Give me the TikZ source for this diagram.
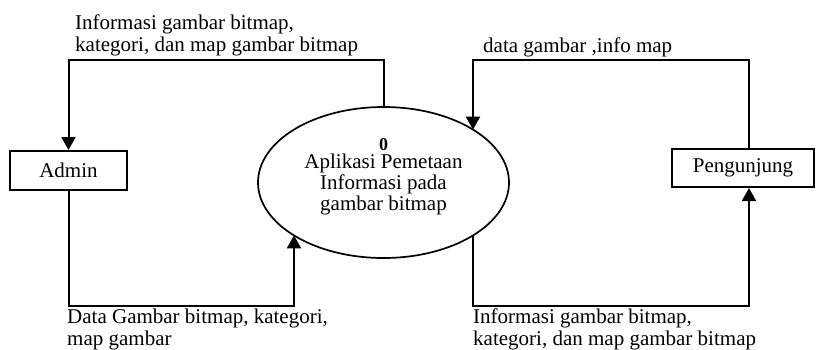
\documentclass[tikz,border=0pt]{standalone}
\usepackage{fontspec}
\setmainfont{Liberation Serif}
\usetikzlibrary{arrows.meta,calc,shapes.geometric}
\begin{document}
\begin{tikzpicture}[x=1pt,y=-1pt,
  box/.style={draw,line width=2pt,inner sep=0pt,font=\fontsize{21}{22}\selectfont},
  flow/.style={line width=2pt,-{Triangle[width=14pt,length=13pt]}},
  lbl/.style={anchor=north west,inner sep=0pt,align=left,font=\fontsize{21}{22}\selectfont}]
\useasboundingbox (0,0) rectangle (816,349);
% entities and process
\node[box,minimum width=117pt,minimum height=39pt] (admin) at (68.5,170.5) {Admin};
\node[box,minimum width=142pt,minimum height=38pt] (peng) at (743,168) {Pengunjung};
\node[ellipse,draw,line width=1.7pt,minimum width=251pt,minimum height=151pt,inner sep=0pt] (proc) at (383.5,182.5) {};
\node[anchor=base,inner sep=0pt,font=\fontsize{18}{18}\selectfont\bfseries] (pnum) at (383.5,150.5) {0};
\node[anchor=north,inner sep=0pt,align=center,font=\fontsize{21}{21}\selectfont] (ptext) at (383.5,153.5)
  {Aplikasi Pemetaan\\Informasi pada\\gambar bitmap};
% helper coordinates
\coordinate (topy) at (0,60);
\coordinate (boty) at (0,306);
\coordinate (pbl) at ($(proc.center)+(-89.5,52.9)$);
\coordinate (pbr) at ($(proc.center)+(89.5,52.9)$);
\coordinate (ptr) at ($(proc.center)+(89.5,-52.9)$);
\coordinate (pengtop) at ($(peng.north)+(6,0)$);
\coordinate (pengbot) at ($(peng.south)+(6,0)$);
% flows
\draw[flow] (proc.north) -- (proc.north |- topy) -| (admin.north);
\draw[flow] (admin.south) -- (admin.south |- boty) -| (pbl);
\draw[flow] (pengtop) -- (pengtop |- topy) -| (ptr);
\draw[flow] (pbr) -- (pbr |- boty) -| (pengbot);
% labels
\node[lbl] (l1) at (75,15) {Informasi gambar bitmap,\\kategori, dan map gambar bitmap};
\node[lbl] (l2) at (483,37.7) {data gambar ,info map};
\node[lbl] (l3) at (67,308.7) {Data Gambar bitmap, kategori,\\map gambar};
\node[lbl] (l4) at (473,308.7) {Informasi gambar bitmap,\\kategori, dan map gambar bitmap};
\end{tikzpicture}
\end{document}
